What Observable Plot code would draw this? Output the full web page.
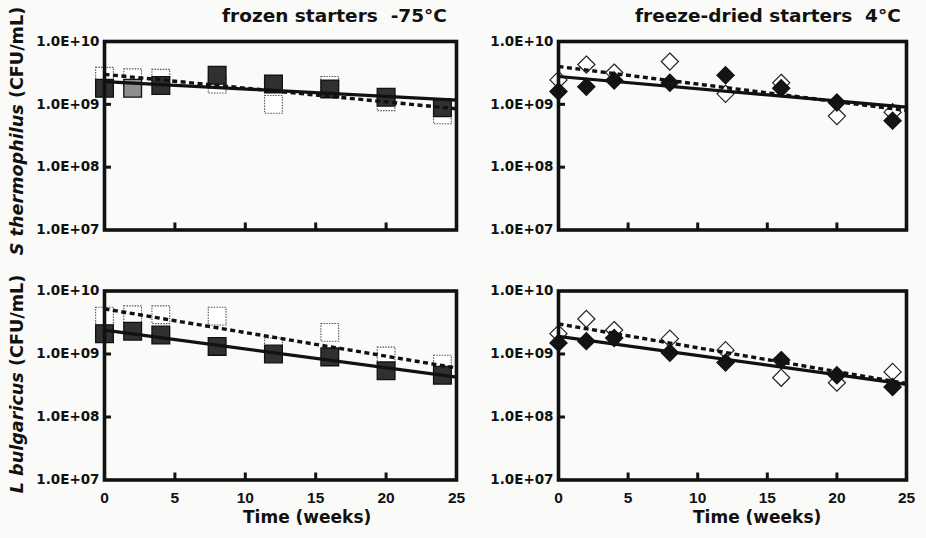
<!DOCTYPE html>
<html><head><meta charset="utf-8">
<script src="https://cdn.jsdelivr.net/npm/d3@7"></script>
<script src="https://cdn.jsdelivr.net/npm/@observablehq/plot@0.6"></script>
<style>
html,body{margin:0;padding:0;background:#fafaf8;}
#wrap{position:relative;width:926px;height:538px;overflow:hidden;font-family:"DejaVu Sans",sans-serif;font-weight:bold;color:#111;}
.panel{position:absolute;}
.txt{position:absolute;white-space:pre;line-height:1;}
.ylab{position:absolute;white-space:pre;line-height:1;font-size:17.6px;transform:translate(-50%,-50%) rotate(-90deg);}
</style></head><body><div id="wrap"></div>
<script>
// ---- data ----
const weeks = [0, 2, 4, 8, 12, 16, 20, 24];
const fitWeeks = [0, 25];
const xTicks = [0, 5, 10, 15, 20, 25];
const yTicks = [1e7, 1e8, 1e9, 1e10];
const panelTitles = ["frozen starters  -75\u00B0C", "freeze-dried starters  4\u00B0C"];
const xLabel = "Time (weeks)";
const species = ["S thermophilus", "L bulgaricus"];
const unit = " (CFU/mL)";

const stFrozenFilled = [1.8e9, 1.8e9, 2.0e9, 2.9e9, 2.1e9, 1.76e9, 1.3e9, 8.8e8];
const stFrozenOpen   = [2.8e9, 2.65e9, 2.6e9, 2.1e9, 1.0e9, 2.0e9, 1.1e9, 6.8e8];
const stDriedFilled  = [1.6e9, 1.9e9, 2.4e9, 2.2e9, 2.9e9, 1.8e9, 1.07e9, 5.5e8];
const stDriedOpen    = [2.45e9, 4.3e9, 3.2e9, 4.8e9, 1.47e9, 2.2e9, 6.5e8, 7.5e8];
const lbFrozenFilled = [2.1e9, 2.3e9, 2.0e9, 1.32e9, 1.0e9, 9.0e8, 5.4e8, 4.6e8];
const lbFrozenOpen   = [4.0e9, 4.2e9, 4.2e9, 4.0e9, 1.3e9, 2.2e9, 9.3e8, 6.9e8];
const lbDriedFilled  = [1.5e9, 1.6e9, 1.8e9, 1.05e9, 7.3e8, 8.0e8, 4.6e8, 3.0e8];
const lbDriedOpen    = [2.1e9, 3.6e9, 2.4e9, 1.75e9, 1.15e9, 4.2e8, 3.5e8, 5.2e8];

const stFrozenFitFilled = [2.3e9, 1.17e9];
const stFrozenFitOpen   = [3.0e9, 8.5e8];
const stDriedFitFilled  = [2.77e9, 9.0e8];
const stDriedFitOpen    = [4.0e9, 8.0e8];
const lbFrozenFitFilled = [2.4e9, 4.3e8];
const lbFrozenFitOpen   = [5.2e9, 6.0e8];
const lbDriedFitFilled  = [1.9e9, 3.3e8];
const lbDriedFitOpen    = [3.0e9, 3.4e8];

// ---- drawing ----
const wrap = document.getElementById("wrap");
const toRows = (xs, ys) => xs.map((x, i) => ({week: x, cfu: ys[i]}));
const fmt = d => { const e = Math.round(Math.log10(d)); return "1.0E+" + (e < 10 ? "0" : "") + e; };

function panel(o) {
  const pw = o.width - o.mL - o.mR, ph = o.height - o.mT - o.mB;
  const sq = o.shape === "square";
  const r = sq ? 10 : 7.7;
  const marks = [
    Plot.dot(toRows(weeks, o.open), {x: "week", y: "cfu", symbol: o.shape, r,
      fill: "white", stroke: sq ? "#555" : "#222", strokeWidth: sq ? 1.1 : 1.2,
      strokeDasharray: sq ? "1.5,1.2" : null}),
    Plot.dot(toRows(weeks, o.filled), {x: "week", y: "cfu", symbol: o.shape, r,
      fill: d => (o.light != null && d.week === o.light) ? "#8e8e8e" : (sq ? "#303030" : "#141414"),
      stroke: "#111", strokeWidth: 1.3}),
    Plot.line(toRows(fitWeeks, o.fitOpen), {x: "week", y: "cfu", stroke: "#111", strokeWidth: 3.4, strokeDasharray: "5,3.5", strokeLinecap: "butt"}),
    Plot.line(toRows(fitWeeks, o.fitFilled), {x: "week", y: "cfu", stroke: "#111", strokeWidth: 3.2, strokeLinecap: "butt"}),
    Plot.frame({stroke: "#111", strokeWidth: 3.6}),
    Plot.tickX(xTicks.slice(1, -1), {x: d => d, insetTop: ph - 7, stroke: "#111", strokeWidth: 3}),
    Plot.tickY(yTicks.slice(1, -1), {y: d => d, insetRight: pw - 7, stroke: "#111", strokeWidth: 3}),
    Plot.axisY(yTicks, {tickSize: 0, tickPadding: 5, tickFormat: fmt, label: null, fontSize: 13.5, fontWeight: "bold", fontFamily: "DejaVu Sans"})
  ];
  if (o.bottom) marks.push(Plot.axisX(xTicks, {tickSize: 0, tickPadding: 12, tickFormat: d => String(d), label: null, fontSize: 15.5, fontWeight: "bold", fontFamily: "Liberation Sans"}));
  const svg = Plot.plot({
    width: o.width, height: o.height,
    marginLeft: o.mL, marginRight: o.mR, marginTop: o.mT, marginBottom: o.mB,
    x: o.bottom ? {domain: [0, 25], label: null} : {domain: [0, 25], axis: null, label: null},
    y: {type: "log", domain: [1e7, 1e10], label: null},
    style: {background: "transparent", color: "#111", fontFamily: "DejaVu Sans", fontWeight: "bold", overflow: "visible"},
    marks
  });
  svg.classList.add("panel");
  svg.style.left = o.left + "px";
  svg.style.top = o.top + "px";
  wrap.appendChild(svg);
}

panel({left: 0, top: 0, width: 470, height: 245, mL: 104, mR: 14, mT: 41, mB: 15.5,
  shape: "square", filled: stFrozenFilled, open: stFrozenOpen, fitFilled: stFrozenFitFilled, fitOpen: stFrozenFitOpen, light: 2});
panel({left: 462, top: 0, width: 464, height: 245, mL: 96, mR: 20, mT: 41, mB: 15.5,
  shape: "diamond2", filled: stDriedFilled, open: stDriedOpen, fitFilled: stDriedFitFilled, fitOpen: stDriedFitOpen});
panel({left: 0, top: 255, width: 470, height: 283, mL: 104, mR: 14, mT: 35.5, mB: 58.5, bottom: true,
  shape: "square", filled: lbFrozenFilled, open: lbFrozenOpen, fitFilled: lbFrozenFitFilled, fitOpen: lbFrozenFitOpen});
panel({left: 462, top: 255, width: 464, height: 283, mL: 96, mR: 20, mT: 35.5, mB: 58.5, bottom: true,
  shape: "diamond2", filled: lbDriedFilled, open: lbDriedOpen, fitFilled: lbDriedFitFilled, fitOpen: lbDriedFitOpen});

function addText(str, left, top, size) {
  const d = document.createElement("div");
  d.className = "txt"; d.textContent = str;
  d.style.left = left + "px"; d.style.top = top + "px"; d.style.fontSize = size + "px";
  wrap.appendChild(d);
}
addText(panelTitles[0], 222, 7.4, 18.5);
addText(panelTitles[1], 635, 7.4, 18.5);
addText(xLabel, 243, 508.6, 17);
addText(xLabel, 693, 508.6, 17);

function addYLabel(sp, cx, cy) {
  const d = document.createElement("div");
  d.className = "ylab";
  const i = document.createElement("i"); i.textContent = sp;
  d.appendChild(i); d.appendChild(document.createTextNode(unit));
  d.style.left = cx + "px"; d.style.top = cy + "px";
  wrap.appendChild(d);
}
addYLabel(species[0], 18, 131);
addYLabel(species[1], 18, 384);
</script></body></html>
